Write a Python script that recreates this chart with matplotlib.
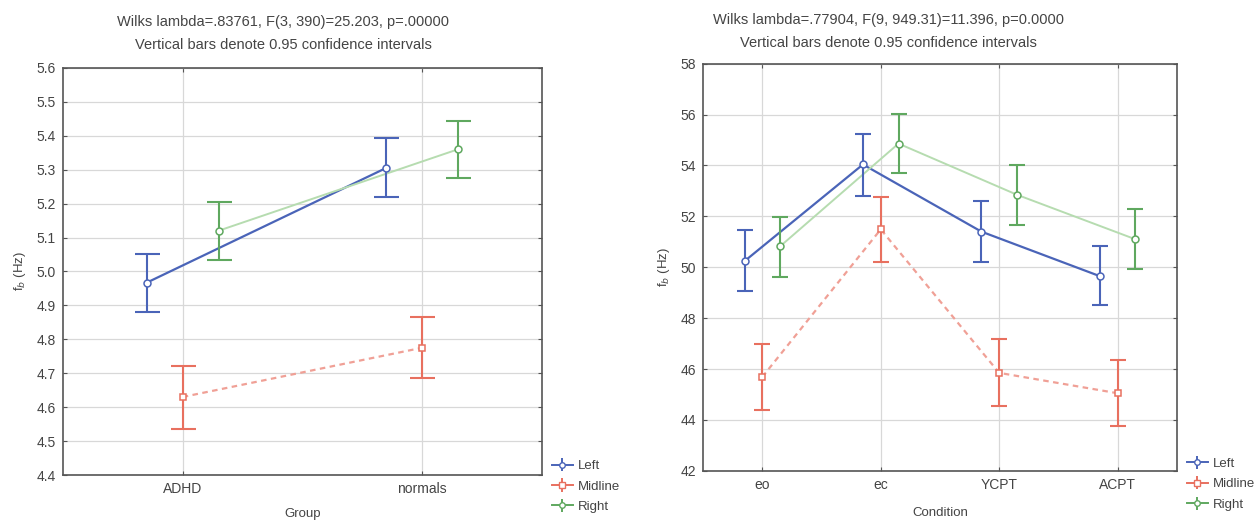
import matplotlib
matplotlib.use("Agg")
import matplotlib.pyplot as plt
import numpy as np

plt.rcParams["font.family"] = ["Liberation Sans", "DejaVu Sans"]

# --- data ---
series = ["Left", "Midline", "Right"]

groups = ["ADHD", "normals"]
grp_mean = {"Left": [4.967, 5.305], "Midline": [4.630, 4.775], "Right": [5.120, 5.360]}
grp_lo = {"Left": [4.880, 5.220], "Midline": [4.537, 4.685], "Right": [5.035, 5.275]}
grp_hi = {"Left": [5.050, 5.393], "Midline": [4.722, 4.865], "Right": [5.205, 5.442]}

conditions = ["eo", "ec", "YCPT", "ACPT"]
cond_mean = {"Left": [50.24, 54.04, 51.40, 49.65],
             "Midline": [45.69, 51.49, 45.85, 45.05],
             "Right": [50.82, 54.86, 52.85, 51.10]}
cond_lo = {"Left": [49.06, 52.82, 50.20, 48.50],
           "Midline": [44.39, 50.20, 44.55, 43.75],
           "Right": [49.60, 53.69, 51.65, 49.95]}
cond_hi = {"Left": [51.45, 55.22, 52.60, 50.85],
           "Midline": [46.98, 52.78, 47.20, 46.35],
           "Right": [51.96, 56.04, 54.00, 52.30]}

left_title = ["Wilks lambda=.83761, F(3, 390)=25.203, p=.00000",
              "Vertical bars denote 0.95 confidence intervals"]
right_title = ["Wilks lambda=.77904, F(9, 949.31)=11.396, p=0.0000",
               "Vertical bars denote 0.95 confidence intervals"]

STYLE = {
    "Left": dict(color="#4a64b8", line="#4a64b8", ls="-", marker="o", off=-0.15, lw=1.6),
    "Midline": dict(color="#e8705f", line="#f0a096", ls=(0, (2.5, 2)), marker="s", off=0.0, lw=1.6),
    "Right": dict(color="#5fa85f", line="#b6dcb0", ls="-", marker="o", off=0.15, lw=1.4),
}
TXT = "#444444"


def draw_panel(ax, cats, mean, lo, hi, capsize, leg_y):
    x = np.arange(len(cats))
    for name in series:
        st = STYLE[name]
        m = np.array(mean[name])
        err = np.array([m - np.array(lo[name]), np.array(hi[name]) - m])
        xs = x + st["off"]
        ax.plot(xs, m, color=st["line"], ls=st["ls"], lw=st["lw"], zorder=2)
        ax.errorbar(xs, m, yerr=err, fmt="none", ecolor=st["color"],
                    elinewidth=1.5, capsize=capsize, capthick=1.5, zorder=3)
        ax.plot(xs, m, ls="none", marker=st["marker"], ms=5, mfc="white",
                mec=st["color"], mew=1.1, zorder=4)
    ax.set_xticks(x)
    ax.set_xticklabels(cats)
    ax.set_xlim(-0.5, len(cats) - 0.5)
    ax.grid(True, color="#d8d8d8", lw=0.9)
    ax.set_axisbelow(True)
    ax.tick_params(direction="in", length=3, colors="#555555", labelcolor=TXT,
                   labelsize=10, top=True, right=True, pad=5)
    for sp in ax.spines.values():
        sp.set_color("#555555")
        sp.set_linewidth(1.2)
    # legend handles with error-bar look
    handles = []
    for name in series:
        st = STYLE[name]
        h = ax.errorbar([], [], yerr=[], color=st["color"], ls="-", lw=1.4,
                        marker=st["marker"], ms=4, mfc="white", mec=st["color"],
                        capsize=3.5)
        handles.append(h)
    ax.legend(handles, series, loc="upper left", bbox_to_anchor=(1.01, leg_y),
              frameon=False, fontsize=9.5, handlelength=1.6, handletextpad=0.4,
              labelspacing=0.62, borderaxespad=0, labelcolor=TXT)


fig = plt.figure(figsize=(12.6, 5.22), dpi=100)

ax1 = fig.add_axes([0.050, 0.090, 0.380, 0.780])
draw_panel(ax1, groups, grp_mean, grp_lo, grp_hi, capsize=9, leg_y=0.05)
ax1.set_ylim(4.4, 5.6)
ax1.set_yticks(np.arange(4.4, 5.61, 0.1))
ax1.set_yticklabels([f"{v:.1f}" for v in np.arange(4.4, 5.61, 0.1)])
ax1.set_xlabel("Group", fontsize=9.5, color=TXT, labelpad=9)
ax1.set_ylabel(r"f$_b$ (Hz)", fontsize=9.5, color=TXT, labelpad=6)

ax2 = fig.add_axes([0.558, 0.098, 0.376, 0.780])
draw_panel(ax2, conditions, cond_mean, cond_lo, cond_hi, capsize=5.5, leg_y=0.045)
ax2.set_ylim(42, 58)
ax2.set_yticks(np.arange(42, 59, 2))
ax2.set_xlabel("Condition", fontsize=9.5, color=TXT, labelpad=11)
ax2.set_ylabel(r"f$_b$ (Hz)", fontsize=9.5, color=TXT, labelpad=6)

fig.text(283 / 1260, 1 - 22 / 522, left_title[0], ha="center", va="center", fontsize=10.5, color=TXT)
fig.text(283 / 1260, 1 - 45 / 522, left_title[1], ha="center", va="center", fontsize=10.5, color=TXT)
fig.text(888 / 1260, 1 - 20 / 522, right_title[0], ha="center", va="center", fontsize=10.5, color=TXT)
fig.text(888 / 1260, 1 - 43 / 522, right_title[1], ha="center", va="center", fontsize=10.5, color=TXT)

fig.savefig("out.png", dpi=100)
